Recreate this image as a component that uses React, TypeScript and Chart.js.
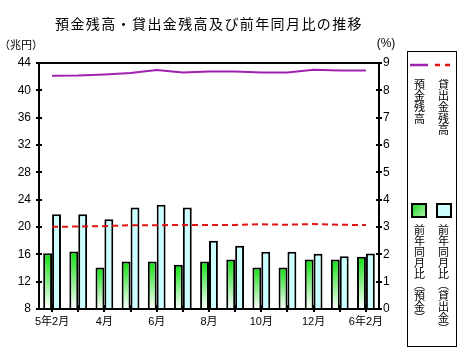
import React, { useEffect, useRef } from 'react';
import { Chart, registerables } from 'chart.js';
Chart.register(...registerables);

const categories = ['5年2月', '3月', '4月', '5月', '6月', '7月', '8月', '9月', '10月', '11月', '12月', '6年1月', '6年2月'];
const xTickLabels = ['5年2月', '', '4月', '', '6月', '', '8月', '', '10月', '', '12月', '', '6年2月'];
// 兆円 (left axis)
const depositBalance = [42.13, 42.18, 42.33, 42.53, 42.97, 42.62, 42.77, 42.77, 42.62, 42.62, 43.0, 42.9, 42.9];
const loanBalance = [20.03, 20.07, 20.13, 20.26, 20.26, 20.3, 20.3, 20.3, 20.4, 20.33, 20.44, 20.32, 20.3];
// % (right axis)
const depositYoY = [2.04, 2.1, 1.52, 1.74, 1.74, 1.62, 1.74, 1.81, 1.52, 1.52, 1.81, 1.81, 1.91];
const loanYoY = [3.47, 3.47, 3.28, 3.71, 3.81, 3.71, 2.5, 2.31, 2.09, 2.09, 2.02, 1.93, 2.03];
const leftTicks = [8, 12, 16, 20, 24, 28, 32, 36, 40, 44];
const rightTicks = [0, 1, 2, 3, 4, 5, 6, 7, 8, 9];

const TITLE = '預金残高・貸出金残高及び前年同月比の推移';
const LEG_DEP = '預金残高';
const LEG_LOAN = '貸出金残高';
const LEG_DEP_YOY = '前年同月比︵預金︶';
const LEG_LOAN_YOY = '前年同月比︵貸出金︶';

const MAGENTA = '#a020b0';
const RED = '#e01414';
const CYAN = '#ccffff';
const CJK = '"Noto Sans CJK JP"';

function drawVertical(ctx: CanvasRenderingContext2D, text: string, x: number, y: number, step: number) {
  const chars = Array.from(text);
  chars.forEach((ch, i) => {
    ctx.fillText(ch, x, y + i * step);
  });
}

const overlay = {
  id: 'overlay',
  afterDraw(chart: any) {
    const { ctx, chartArea: a, scales } = chart;
    ctx.save();
    // frame
    ctx.strokeStyle = '#000';
    ctx.lineWidth = 2;
    ctx.setLineDash([]);
    ctx.strokeRect(a.left, a.top, a.right - a.left, a.bottom - a.top);
    // tick marks
    ctx.beginPath();
    leftTicks.forEach((v) => {
      const y = Math.round(scales.y.getPixelForValue(v));
      ctx.moveTo(a.left - 3, y);
      ctx.lineTo(a.left + 3, y);
    });
    rightTicks.forEach((v) => {
      const y = Math.round(scales.y2.getPixelForValue(v));
      ctx.moveTo(a.right - 3, y);
      ctx.lineTo(a.right + 3, y);
    });
    categories.forEach((_, i) => {
      const x = Math.round(scales.x.getPixelForValue(i));
      ctx.moveTo(x, a.bottom - 4);
      ctx.lineTo(x, a.bottom + 3);
    });
    ctx.stroke();

    // title
    ctx.fillStyle = '#000';
    ctx.textAlign = 'center';
    ctx.textBaseline = 'middle';
    ctx.font = `14px ${CJK}`;
    try { (ctx as any).letterSpacing = '1.4px'; } catch (e) {}
    ctx.fillText(TITLE, 209, 24);
    try { (ctx as any).letterSpacing = '0px'; } catch (e) {}

    // unit labels
    ctx.font = `11px ${CJK}`;
    ctx.fillText('（兆円）', 21, 45);
    ctx.font = '12px "Liberation Sans"';
    ctx.fillText('(%)', 386, 44);

    // legend box
    ctx.lineWidth = 1;
    ctx.strokeStyle = '#000';
    ctx.strokeRect(407.5, 51.5, 49, 295);
    ctx.lineWidth = 2.5;
    ctx.strokeStyle = MAGENTA;
    ctx.beginPath();
    ctx.moveTo(410, 65);
    ctx.lineTo(428, 65);
    ctx.stroke();
    ctx.strokeStyle = RED;
    ctx.setLineDash([5, 5]);
    ctx.beginPath();
    ctx.moveTo(435, 65);
    ctx.lineTo(455, 65);
    ctx.stroke();
    ctx.setLineDash([]);

    ctx.fillStyle = '#000';
    ctx.textAlign = 'center';
    ctx.textBaseline = 'top';
    ctx.font = `11px ${CJK}`;
    drawVertical(ctx, LEG_DEP, 419.5, 79, 11.3);
    drawVertical(ctx, LEG_LOAN, 443.5, 79, 11.3);

    // legend squares
    const g = ctx.createLinearGradient(411, 203, 427, 218);
    g.addColorStop(0, '#10d010');
    g.addColorStop(1, '#c0f8c0');
    ctx.fillStyle = g;
    ctx.fillRect(412, 204, 14, 13);
    ctx.lineWidth = 2;
    ctx.strokeStyle = '#000';
    ctx.strokeRect(412, 204, 14, 13);
    ctx.fillStyle = CYAN;
    ctx.fillRect(437, 204, 14, 13);
    ctx.strokeRect(437, 204, 14, 13);

    ctx.fillStyle = '#000';
    drawVertical(ctx, LEG_DEP_YOY, 419.5, 224, 11);
    drawVertical(ctx, LEG_LOAN_YOY, 443.5, 224, 11);
    ctx.restore();
  },
};

function greenGradient(c: any) {
  const chart = c.chart;
  const s = chart.scales && chart.scales.y2;
  if (!s || c.raw === undefined || !chart.chartArea) return '#40e040';
  const top = s.getPixelForValue(c.raw);
  const base = s.getPixelForValue(0);
  const g = chart.ctx.createLinearGradient(0, top, 0, base);
  g.addColorStop(0, '#10e010');
  g.addColorStop(1, '#ffffff');
  return g;
}

export default function App() {
  const ref = useRef<HTMLCanvasElement>(null);
  useEffect(() => {
    if (!ref.current) return;
    const chart = new Chart(ref.current, {
      type: 'bar',
      data: {
        labels: categories,
        datasets: [
          {
            type: 'line',
            label: LEG_DEP,
            data: depositBalance,
            yAxisID: 'y',
            borderColor: MAGENTA,
            borderWidth: 2,
            pointRadius: 0,
            tension: 0,
            order: 0,
          },
          {
            type: 'line',
            label: LEG_LOAN,
            data: loanBalance,
            yAxisID: 'y',
            borderColor: RED,
            borderWidth: 2,
            borderDash: [6, 4],
            pointRadius: 0,
            tension: 0,
            order: 0,
          },
          {
            type: 'bar',
            label: '前年同月比（預金）',
            data: depositYoY,
            yAxisID: 'y2',
            backgroundColor: greenGradient as any,
            borderColor: '#000',
            borderWidth: 2,
            categoryPercentage: 0.68,
            barPercentage: 1.0,
            order: 1,
          },
          {
            type: 'bar',
            label: '前年同月比（貸出金）',
            data: loanYoY,
            yAxisID: 'y2',
            backgroundColor: CYAN,
            borderColor: '#000',
            borderWidth: 2,
            categoryPercentage: 0.68,
            barPercentage: 1.0,
            order: 1,
          },
        ],
      },
      options: {
        animation: false,
        responsive: false,
        maintainAspectRatio: false,
        layout: { padding: { top: 63, left: 0, right: 0, bottom: 0 } },
        plugins: { legend: { display: false }, tooltip: { enabled: false }, title: { display: false } },
        scales: {
          x: {
            offset: true,
            grid: { display: false, drawTicks: false },
            border: { display: false },
            ticks: {
              autoSkip: false,
              maxRotation: 0,
              minRotation: 0,
              padding: 6,
              color: '#000',
              font: { family: `"Liberation Sans", ${CJK}`, size: 11 },
              callback: (_v: any, i: number) => xTickLabels[i],
            },
            afterFit: (s: any) => { s.height = 52; },
          },
          y: {
            position: 'left',
            min: 8,
            max: 44,
            grid: { display: false, drawTicks: false },
            border: { display: false },
            ticks: {
              stepSize: 4,
              padding: 8,
              color: '#000',
              font: { family: '"Liberation Sans"', size: 12 },
            },
            afterFit: (s: any) => { s.width = 39; },
          },
          y2: {
            position: 'right',
            min: 0,
            max: 9,
            grid: { display: false, drawTicks: false },
            border: { display: false },
            ticks: {
              stepSize: 1,
              padding: 4,
              color: '#000',
              font: { family: '"Liberation Sans"', size: 12 },
            },
            afterFit: (s: any) => { s.width = 89; },
          },
        },
      },
      plugins: [overlay],
    } as any);
    return () => chart.destroy();
  }, []);
  return (
    <div style={{ position: 'absolute', left: 0, top: 0, width: 468, height: 361, background: '#fff' }}>
      <canvas ref={ref} width={468} height={361} style={{ display: 'block', width: 468, height: 361 }} />
    </div>
  );
}
